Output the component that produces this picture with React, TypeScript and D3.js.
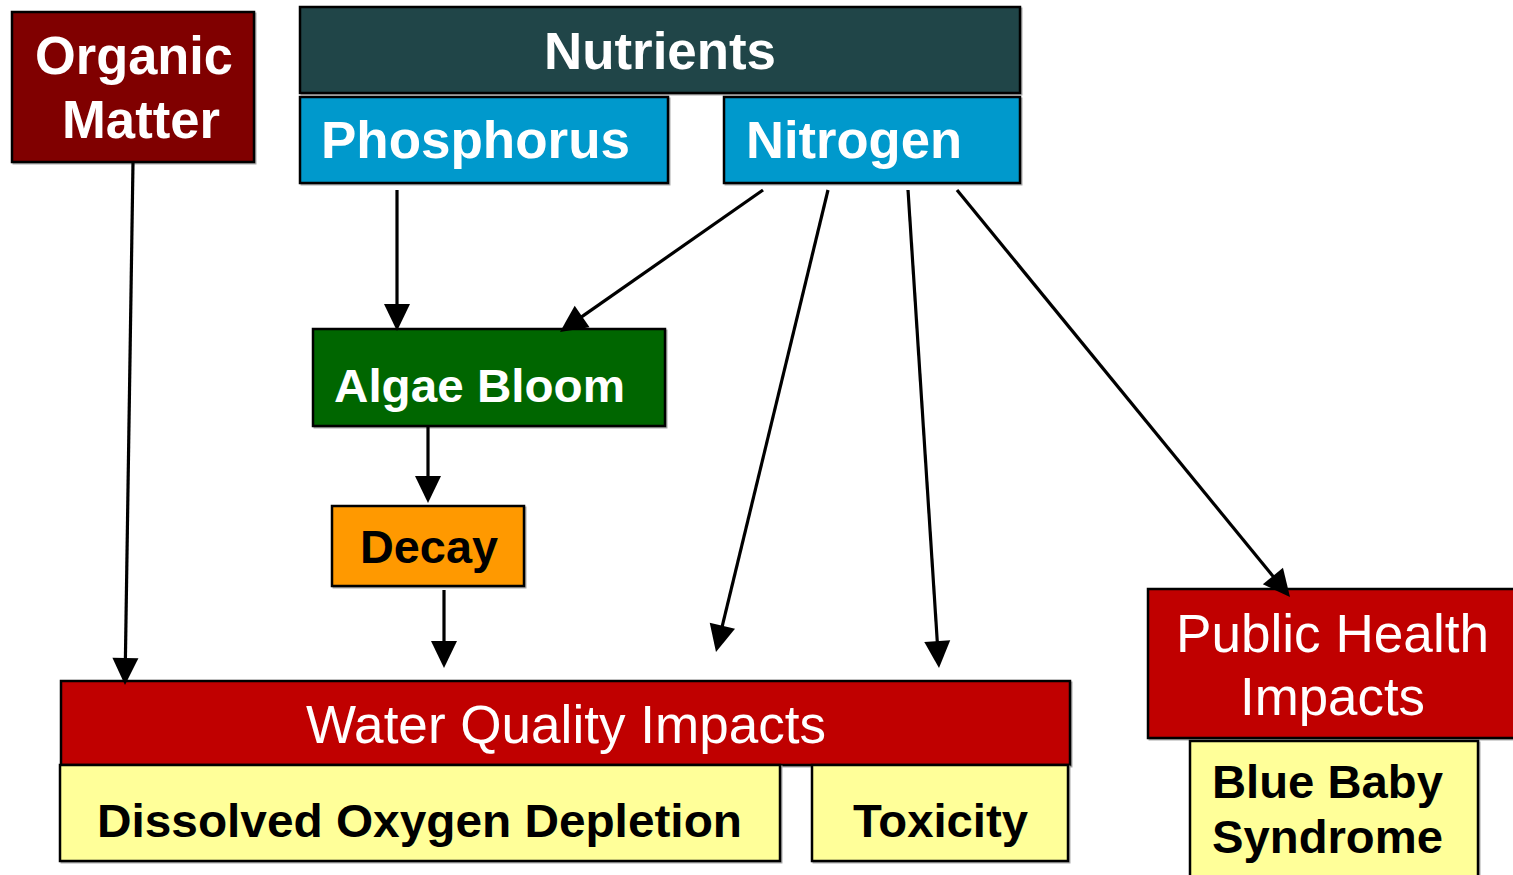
import React from "react";
import * as d3 from "d3";

// Nodes of the diagram (labels, one string per line)
const nodeIds = ["organic", "nutrients", "phosphorus", "nitrogen", "algae", "decay", "water", "dod", "toxicity", "public", "bluebaby"];
const nodeLabels: string[][] = [
  ["Organic", "Matter"],
  ["Nutrients"],
  ["Phosphorus"],
  ["Nitrogen"],
  ["Algae Bloom"],
  ["Decay"],
  ["Water Quality Impacts"],
  ["Dissolved Oxygen Depletion"],
  ["Toxicity"],
  ["Public Health", "Impacts"],
  ["Blue Baby", "Syndrome"],
];
// Edges (from -> to)
const edgeFrom = ["organic", "phosphorus", "nitrogen", "nitrogen", "nitrogen", "nitrogen", "algae", "decay"];
const edgeTo = ["water", "algae", "algae", "water", "toxicity", "public", "decay", "water"];

// ---------- layout & style (kept separate from data) ----------
type Box = { x0: number; y0: number; x1: number; y1: number; fill: string; color: string; weight: number; size: number;
  lines: { x: number; y: number; w: number }[] };
const layout: Record<string, Box> = {
  organic: { x0: 12, y0: 12, x1: 254, y1: 162, fill: "#800000", color: "#fff", weight: 700, size: 53,
    lines: [{ x: 35, y: 74, w: 198 }, { x: 62, y: 138, w: 158 }] },
  nutrients: { x0: 300, y0: 7, x1: 1020, y1: 93, fill: "#204548", color: "#fff", weight: 700, size: 51,
    lines: [{ x: 544, y: 69, w: 232 }] },
  phosphorus: { x0: 300, y0: 97, x1: 668, y1: 183, fill: "#0099CC", color: "#fff", weight: 700, size: 51,
    lines: [{ x: 321, y: 158, w: 309 }] },
  nitrogen: { x0: 724, y0: 97, x1: 1020, y1: 183, fill: "#0099CC", color: "#fff", weight: 700, size: 51,
    lines: [{ x: 746, y: 158, w: 216 }] },
  algae: { x0: 313, y0: 329, x1: 665, y1: 426, fill: "#006600", color: "#fff", weight: 700, size: 47,
    lines: [{ x: 334, y: 402, w: 291 }] },
  decay: { x0: 332, y0: 506, x1: 524, y1: 586, fill: "#FF9900", color: "#000", weight: 700, size: 47,
    lines: [{ x: 360, y: 563, w: 138 }] },
  water: { x0: 61, y0: 681, x1: 1070, y1: 765, fill: "#C00000", color: "#fff", weight: 400, size: 53,
    lines: [{ x: 306, y: 743, w: 520 }] },
  dod: { x0: 60, y0: 765, x1: 780, y1: 861, fill: "#FFFF99", color: "#000", weight: 700, size: 47,
    lines: [{ x: 97, y: 837, w: 645 }] },
  toxicity: { x0: 812, y0: 765, x1: 1068, y1: 861, fill: "#FFFF99", color: "#000", weight: 700, size: 47,
    lines: [{ x: 853, y: 837, w: 175 }] },
  public: { x0: 1148, y0: 589, x1: 1520, y1: 738, fill: "#C00000", color: "#fff", weight: 400, size: 53,
    lines: [{ x: 1176, y: 652, w: 313 }, { x: 1240, y: 715, w: 185 }] },
  bluebaby: { x0: 1190, y0: 741, x1: 1478, y1: 890, fill: "#FFFF99", color: "#000", weight: 700, size: 47,
    lines: [{ x: 1212, y: 798, w: 231 }, { x: 1212, y: 853, w: 231 }] },
};
// arrow geometry per edge index: start and tip
const arrowGeom: [number, number, number, number][] = [
  [133, 162, 125, 685],
  [397, 190, 397, 331],
  [763, 190, 560, 332],
  [828, 190, 716, 652],
  [908, 190, 939, 668],
  [957, 190, 1290, 597],
  [428, 426, 428, 503],
  [444, 590, 444, 668],
];

export default function App() {
  const headLen = 27;
  const headHalf = 13;
  const line = d3.line();
  return (
    <div style={{ position: "fixed", left: 0, top: 0, width: 1513, height: 875, background: "#fff", overflow: "hidden" }}>
      <svg width={1513} height={875} style={{ display: "block", fontFamily: "Arial, 'Liberation Sans', Helvetica, sans-serif" }}>
        {nodeIds.map((id, i) => {
          const b = layout[id];
          return (
            <g key={id}>
              <rect x={b.x0 + 1.5} y={b.y0 + 1.5} width={b.x1 - b.x0} height={b.y1 - b.y0} fill="none" stroke="#aaa" strokeWidth={2} />
              <rect x={b.x0} y={b.y0} width={b.x1 - b.x0} height={b.y1 - b.y0} fill={b.fill} stroke="#000" strokeWidth={2.5} />
              {nodeLabels[i].map((t, j) => {
                const l = b.lines[j];
                return (
                  <text key={j} x={l.x} y={l.y} fill={b.color} fontWeight={b.weight} fontSize={b.size}
                    textLength={l.w} lengthAdjust="spacingAndGlyphs">{t}</text>
                );
              })}
            </g>
          );
        })}
        {edgeFrom.map((f, i) => {
          const [x0, y0, x1, y1] = arrowGeom[i];
          const dx = x1 - x0, dy = y1 - y0;
          const len = Math.hypot(dx, dy);
          const ux = dx / len, uy = dy / len;
          const bx = x1 - ux * headLen, by = y1 - uy * headLen;
          const px = -uy, py = ux;
          const head: [number, number][] = [[x1, y1], [bx + px * headHalf, by + py * headHalf], [bx - px * headHalf, by - py * headHalf]];
          return (
            <g key={f + edgeTo[i] + i}>
              <path d={line([[x0, y0], [bx + ux * 2, by + uy * 2]]) || ""} stroke="#000" strokeWidth={3.2} fill="none" />
              <path d={(line(head) || "") + "Z"} fill="#000" />
            </g>
          );
        })}
      </svg>
    </div>
  );
}
